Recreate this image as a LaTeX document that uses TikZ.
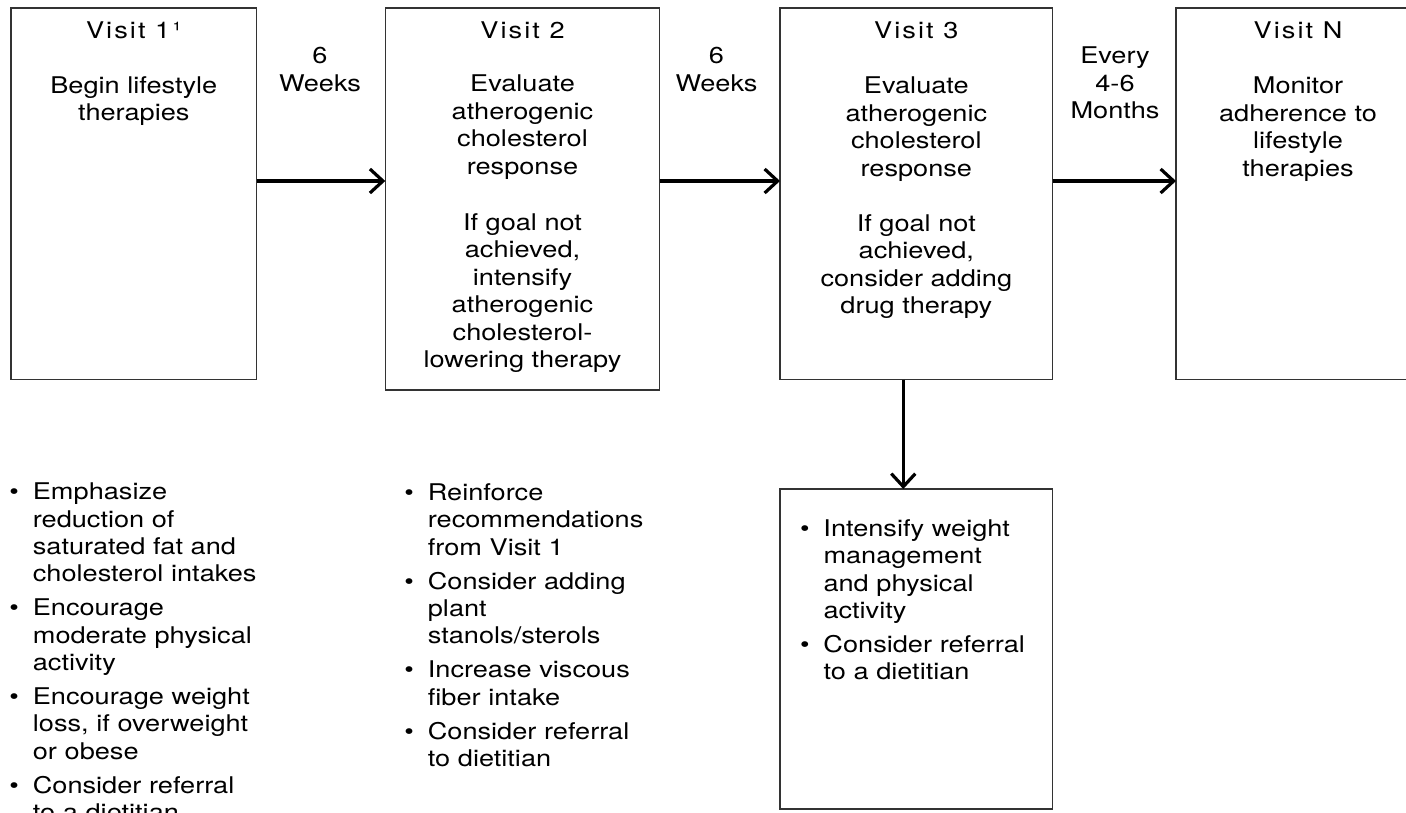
\documentclass[tikz,border=0pt]{standalone}
\usepackage{fontspec}
\setmainfont{TeX Gyre Heros}[FakeStretch=1.18]
\newfontfamily\titlefont{TeX Gyre Heros}[FakeStretch=1.18,LetterSpace=9]
\usetikzlibrary{arrows.meta}
\newcommand\bitem[1]{\par\hangindent=23.5pt\hangafter=1\noindent\makebox[23.5pt][l]{•}#1\par}
\newcommand\isep{\vskip6.5pt}
\newcommand\st{\rule{0pt}{18pt}}
\newcommand\nl{\unskip\nobreak\hfil\break}
\begin{document}
\begin{tikzpicture}[x=1pt,y=-1pt,
  box/.style={draw=black!80, line width=1.4pt, inner sep=0pt, outer sep=0pt, anchor=north west},
  txt/.style={inner sep=0pt, align=center, anchor=north, font=\fontsize{23pt}{27.5pt}\selectfont},
  ttl/.style={inner sep=0pt, align=center, anchor=north, font=\fontsize{23pt}{27.5pt}\titlefont},
  lst/.style={inner sep=0pt, anchor=north west, text width=300pt, font=\fontsize{23pt}{27.4pt}\selectfont},
  arr/.style={line width=3.2pt, -{Straight Barb[length=13pt,width=24pt]}}]
\path[use as bounding box] (0,0) rectangle (1406,812);
\clip (0,0) rectangle (1406,812);
% boxes
\node[box, minimum width=245.5pt, minimum height=371.5pt] (v1) at (11,8) {};
\node[box, minimum width=274.4pt, minimum height=382pt] (v2) at (385.3,8) {};
\node[box, minimum width=272.7pt, minimum height=371.5pt] (v3) at (780,8) {};
\node[box, minimum width=244pt, minimum height=371.5pt] (vn) at (1176,8) {};
\node[box, minimum width=272.7pt, minimum height=320pt] (b3) at (780,489) {};
% box texts
\node[ttl] (t1) at (133.75,20) {\st Visit 1¹};
\node[txt] (d1) at (133.75,75) {\st Begin lifestyle\\therapies};
\node[ttl] (t2) at (522.5,20.3) {\st Visit 2};
\node[txt] (d2a) at (522.5,73.7) {\st Evaluate\\atherogenic\\cholesterol\\response};
\node[txt] (d2b) at (522.5,212) {\st If goal not\\achieved,\\intensify\\atherogenic\\cholesterol-\\lowering therapy};
\node[ttl] (t3) at (916.3,20.3) {\st Visit 3};
\node[txt] (d3a) at (916.3,75.3) {\st Evaluate\\atherogenic\\cholesterol\\response};
\node[txt] (d3b) at (916.3,213) {\st If goal not\\achieved,\\consider adding\\drug therapy};
\node[ttl] (tn) at (1298,20.3) {\st Visit N};
\node[txt] (dn) at (1298,75.3) {\st Monitor\\adherence to\\lifestyle\\therapies};
% interval labels
\node[txt] (l1) at (320,45.3) {\st 6\\Weeks};
\node[txt] (l2) at (716.5,45.3) {\st 6\\Weeks};
\node[txt] (l3) at (1115,45.3) {\st Every\\4-6\\Months};
% arrows
\coordinate (ya) at (0,181);
\coordinate (xa) at (903.3,0);
\draw[arr] (v1.east |- ya) -- (v2.west |- ya);
\draw[arr] (v2.east |- ya) -- (v3.west |- ya);
\draw[arr] (v3.east |- ya) -- (vn.west |- ya);
\draw[arr] (v3.south -| xa) -- (b3.north -| xa);
% lists
\node[lst] (L1) at (9.2,472) {%
  \bitem{\st Emphasize\nl reduction of\nl saturated fat and\nl cholesterol intakes}\isep
  \bitem{Encourage\nl moderate physical\nl activity}\isep
  \bitem{Encourage weight\nl loss, if overweight\nl or obese}\isep
  \bitem{Consider referral\nl to a dietitian}};
\node[lst] (L2) at (404.2,472.7) {%
  \bitem{\st Reinforce\nl recommendations\nl from Visit 1}\isep
  \bitem{Consider adding\nl plant\nl stanols/sterols}\isep
  \bitem{Increase viscous\nl fiber intake}\isep
  \bitem{Consider referral\nl to dietitian}};
\node[lst] (L3) at (799.8,508.7) {%
  \bitem{\st Intensify weight\nl management\nl and physical\nl activity}\isep
  \bitem{Consider referral\nl to a dietitian}};
\end{tikzpicture}
\end{document}
